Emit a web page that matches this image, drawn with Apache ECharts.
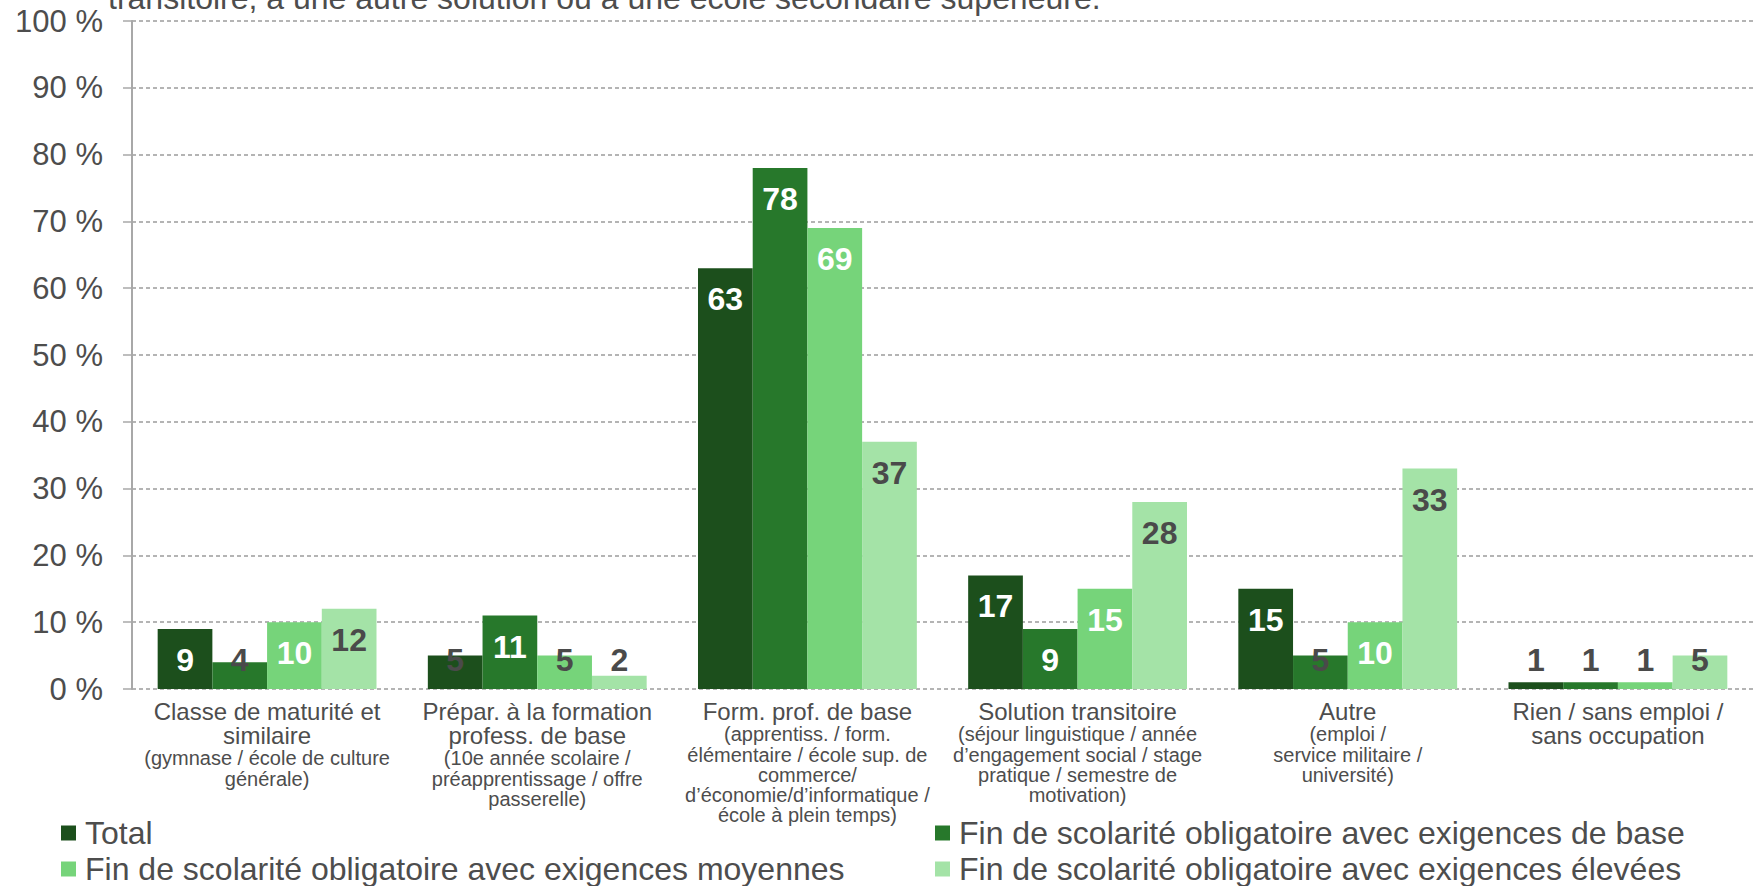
<!DOCTYPE html>
<html>
<head>
<meta charset="utf-8">
<script src="https://cdn.jsdelivr.net/npm/echarts@6/dist/echarts.min.js"></script>
<style>
  html, body { margin: 0; padding: 0; background: #fff; overflow: hidden; }
  #chart { width: 1753px; height: 886px; }
</style>
</head>
<body>
<div id="chart"></div>
<script>
// ---- data ----
const catMain = [
  "Classe de maturité et\nsimilaire",
  "Prépar. à la formation\nprofess. de base",
  "Form. prof. de base",
  "Solution transitoire",
  "Autre",
  "Rien / sans emploi /\nsans occupation"
];
const catSub = [
  "(gymnase / école de culture\ngénérale)",
  "(10e année scolaire /\npréapprentissage / offre\npasserelle)",
  "(apprentiss. / form.\nélémentaire / école sup. de\ncommerce/\nd’économie/d’informatique /\nécole à plein temps)",
  "(séjour linguistique / année\nd’engagement social / stage\npratique / semestre de\nmotivation)",
  "(emploi /\nservice militaire /\nuniversité)",
  ""
];
const seriesNames = [
  "Total",
  "Fin de scolarité obligatoire avec exigences de base",
  "Fin de scolarité obligatoire avec exigences moyennes",
  "Fin de scolarité obligatoire avec exigences élevées"
];
const totalVals    = [9, 5, 63, 17, 15, 1];
const baseVals     = [4, 11, 78, 9, 5, 1];
const moyennesVals = [10, 5, 69, 15, 10, 1];
const eleveesVals  = [12, 2, 37, 28, 33, 5];
const yTickSuffix = " %";
const topText = "transitoire, à une autre solution ou à une école secondaire supérieure.";

// ---- style ----
const FONT = "'Liberation Sans', Arial, Helvetica, sans-serif";
const colors = ["#1c4f1c", "#27782b", "#76d47a", "#a4e3a7"];
const TXT = "#4d4d4d";
const GRID = { left: 132, right: 0, top: 21, bottom: 197 };
const plotH = 886 - GRID.top - GRID.bottom;

function labelFor(v, si) {
  const h = v / 100 * plotH;
  const inside = h >= 59;
  const white = inside && si < 3;
  return {
    show: true,
    position: inside ? 'insideTop' : 'insideBottom',
    distance: inside ? 15 : 13,
    color: white ? '#ffffff' : '#4a4a4a',
    fontSize: 32,
    lineHeight: 32,
    fontWeight: 'bold',
    fontFamily: FONT
  };
}

const allVals = [totalVals, baseVals, moyennesVals, eleveesVals];
const series = allVals.map((vals, si) => ({
  name: seriesNames[si],
  type: 'bar',
  barGap: '0%',
  barCategoryGap: '19%',
  itemStyle: { color: colors[si] },
  data: vals.map(v => ({ value: v, label: labelFor(v, si) }))
}));

const categories = catMain.map((m, i) => {
  const mainLines = m.split('\n').map(l => '{m|' + l + '}');
  const subLines = catSub[i] ? catSub[i].split('\n').map((l, k) => (k === 0 ? '{s1|' : '{s|') + l + '}') : [];
  return mainLines.concat(subLines).join('\n');
});

const legendBase = {
  orient: 'vertical', top: 817, itemGap: 4, padding: 0,
  itemWidth: 15, itemHeight: 15, icon: 'rect',
  textStyle: { fontSize: 32, lineHeight: 31, color: TXT, fontFamily: FONT, padding: [0, 0, 0, 4] }
};

const chart = echarts.init(document.getElementById('chart'), null, { renderer: 'svg' });
chart.setOption({
  animation: false,
  color: colors,
  grid: GRID,
  graphic: [{
    type: 'text',
    left: 108,
    top: -18,
    style: { text: topText, font: '32px ' + FONT, fill: TXT }
  }],
  legend: [
    Object.assign({}, legendBase, { left: 61, data: [seriesNames[0], seriesNames[2]] }),
    Object.assign({}, legendBase, { left: 935, data: [seriesNames[1], seriesNames[3]] })
  ],
  xAxis: {
    type: 'category',
    data: categories,
    axisLine: { show: false },
    axisTick: { show: false },
    axisLabel: {
      interval: 0,
      margin: 10,
      color: TXT,
      fontFamily: FONT,
      align: 'center',
      rich: {
        m: { fontSize: 24, lineHeight: 24, color: TXT, fontFamily: FONT, align: 'center' },
        s1: { fontSize: 20, lineHeight: 22, color: TXT, fontFamily: FONT, align: 'center' },
        s: { fontSize: 20, lineHeight: 20, color: TXT, fontFamily: FONT, align: 'center' }
      }
    }
  },
  yAxis: {
    type: 'value',
    min: 0, max: 100, interval: 10,
    axisLine: { show: true, lineStyle: { color: '#a8a8a8', width: 2 } },
    axisTick: { show: true, length: 9, lineStyle: { color: '#a8a8a8', width: 1.5 } },
    axisLabel: {
      formatter: v => v + yTickSuffix,
      color: TXT, fontSize: 31, fontFamily: FONT, margin: 29
    },
    splitLine: { show: true, lineStyle: { color: '#9c9c9c', width: 1.5, type: [4, 3] } }
  },
  series: series
});
</script>
</body>
</html>
